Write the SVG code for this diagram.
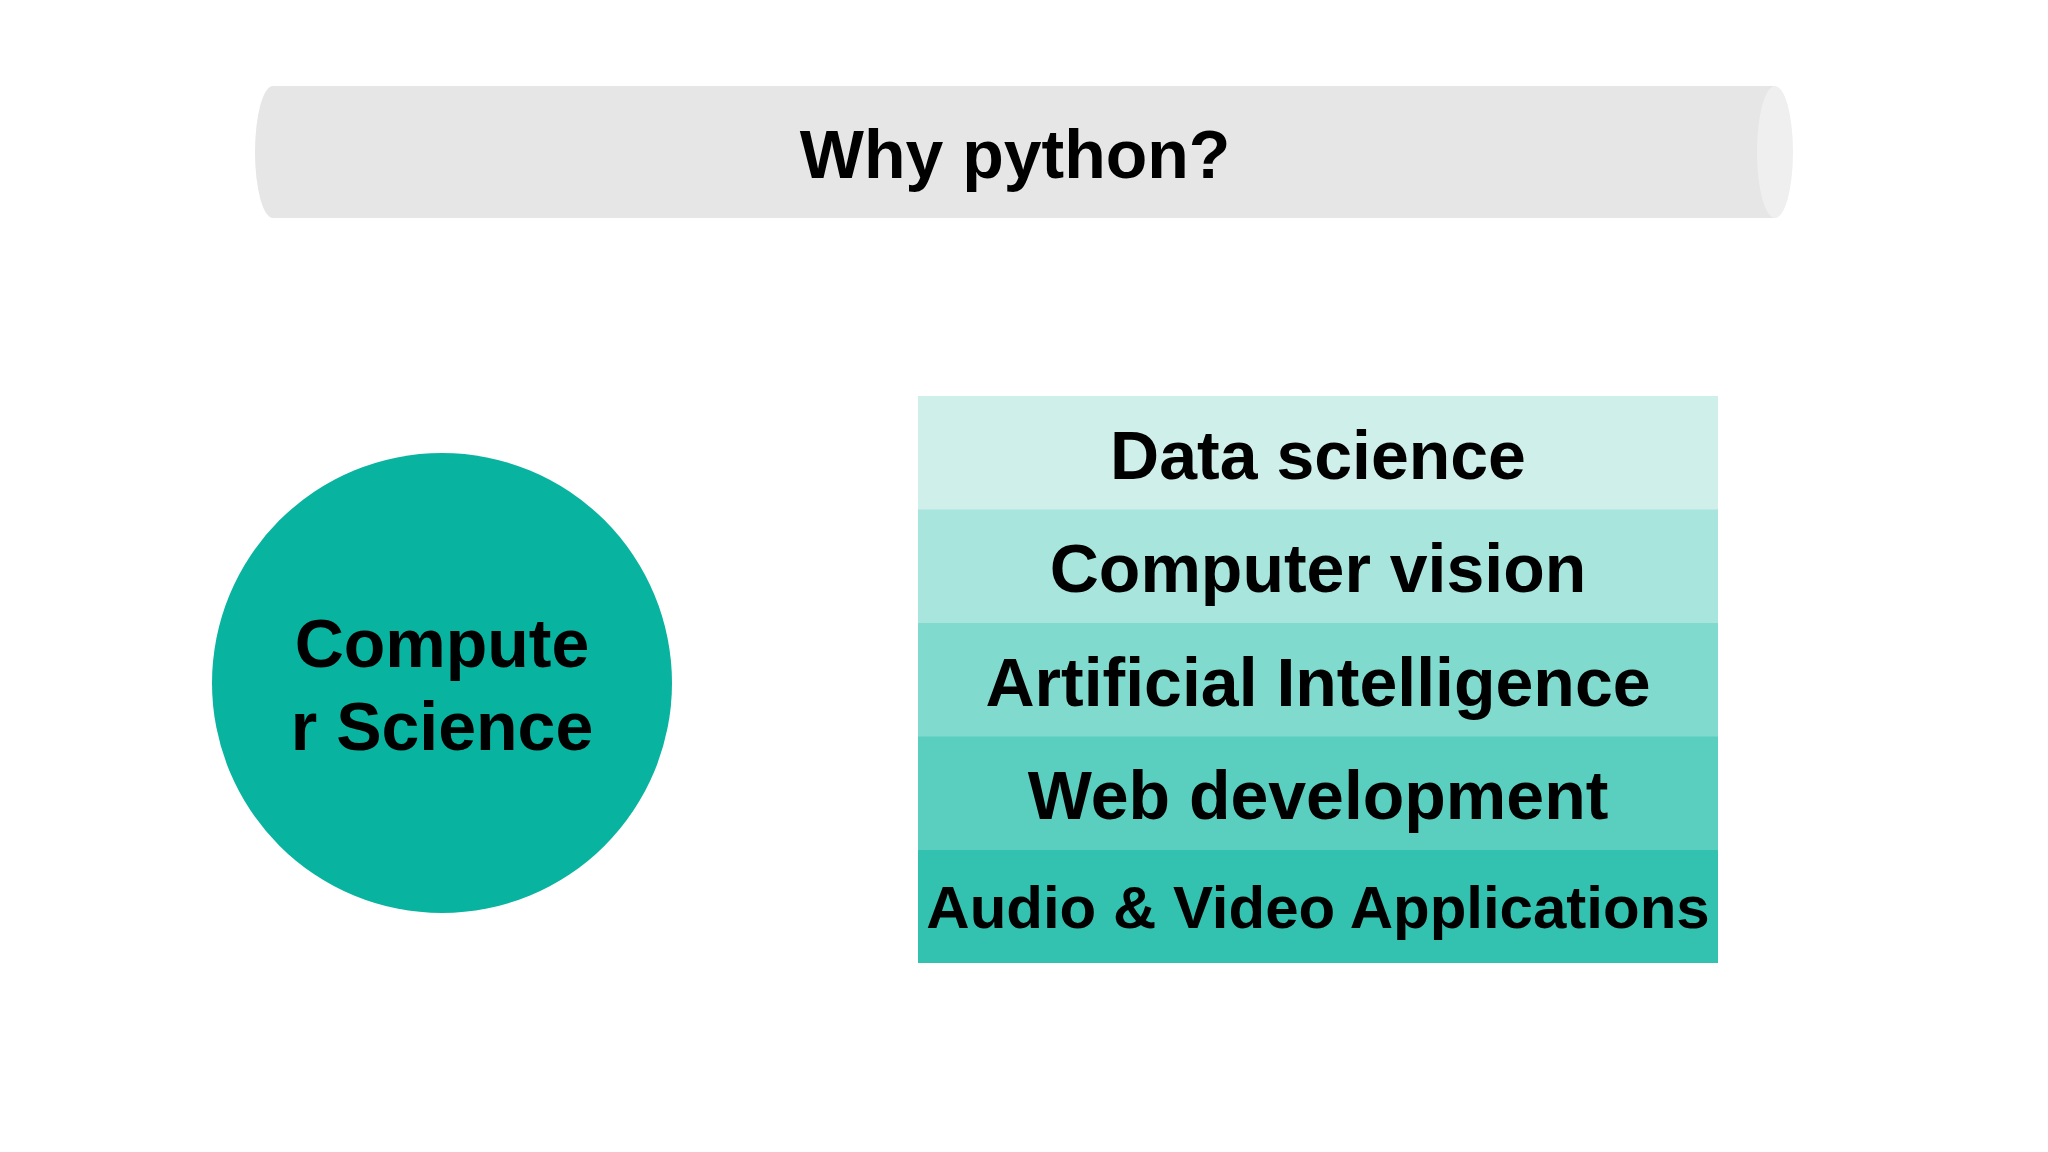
<svg xmlns="http://www.w3.org/2000/svg" width="2048" height="1152" viewBox="0 0 2048 1152">
<style>
text{font-family:"Liberation Sans",Arial,sans-serif;font-weight:bold;fill:#000;text-anchor:middle}
.t{font-size:68px}
.s{font-size:60px}
</style>
<rect width="2048" height="1152" fill="#ffffff"/>
<g id="title">
<path d="M273,86 H1775 V218 H273 A18,66 0 0 1 273,86 Z" fill="#e6e6e6"/>
<ellipse cx="1775" cy="152" rx="18" ry="66" fill="#efefef"/>
<text class="t" x="1015" y="178">Why python?</text>
</g>
<g id="cs">
<circle cx="442" cy="683" r="230" fill="#08b39f"/>
<text class="t" x="442" y="667">Compute</text>
<text class="t" x="442" y="750">r Science</text>
</g>
<g id="stack">
<g id="row1"><rect x="918" y="396" width="800" height="114" fill="#cfefea"/><text class="t" x="1318" y="479">Data science</text></g>
<g id="row2"><rect x="918" y="509.5" width="800" height="114" fill="#a8e6dd"/><text class="t" x="1318" y="592">Computer vision</text></g>
<g id="row3"><rect x="918" y="623" width="800" height="114" fill="#80dacd"/><text class="t" x="1318" y="706">Artificial Intelligence</text></g>
<g id="row4"><rect x="918" y="736.5" width="800" height="114" fill="#5acfbf"/><text class="t" x="1318" y="819">Web development</text></g>
<g id="row5"><rect x="918" y="850" width="800" height="113" fill="#33c2b0"/><text class="s" x="1318" y="928">Audio &amp; Video Applications</text></g>
</g>
<g id="connectors"/>
</svg>
